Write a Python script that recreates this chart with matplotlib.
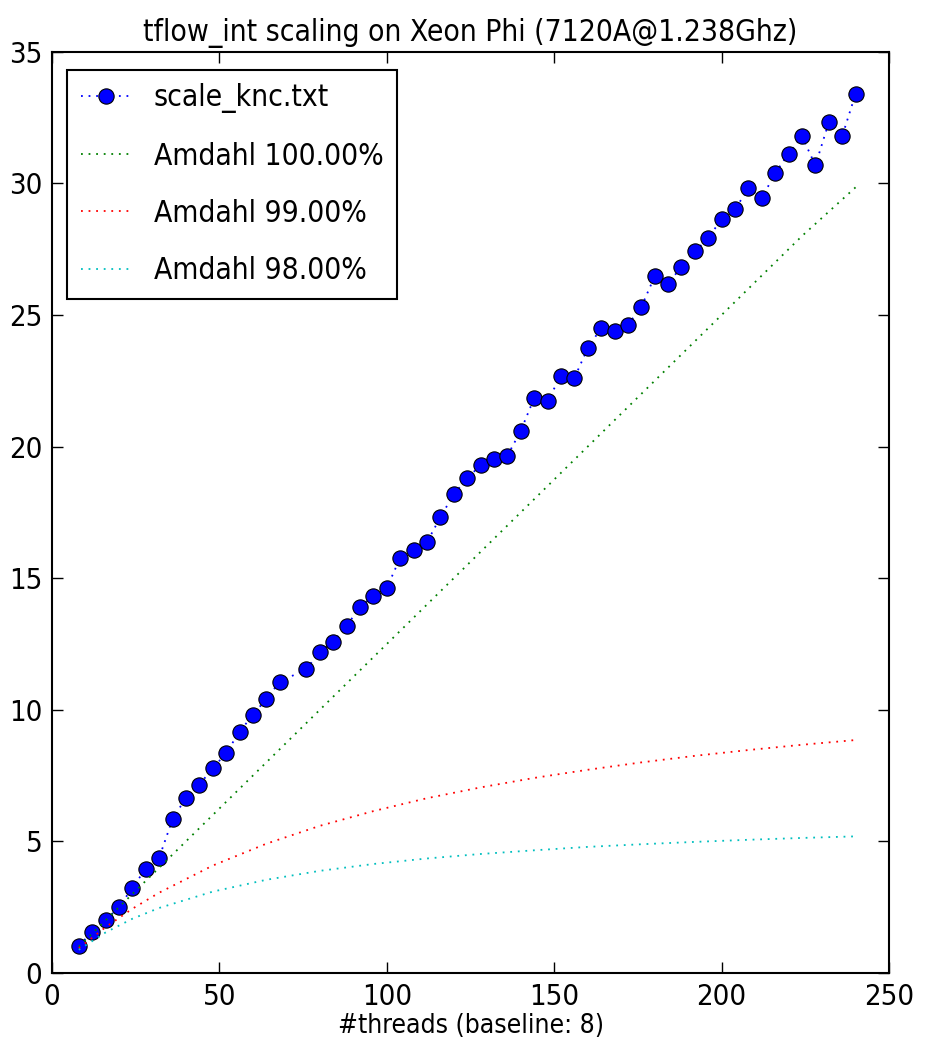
import matplotlib
matplotlib.use("Agg")
import matplotlib.pyplot as plt

# measured speedup (scale_knc.txt), x = #threads
threads = [8, 12, 16, 20, 24, 28, 32, 36, 40, 44, 48, 52, 56, 60, 64, 68,
           76, 80, 84, 88, 92, 96, 100, 104, 108, 112, 116, 120, 124, 128,
           132, 136, 140, 144, 148, 152, 156, 160, 164, 168, 172, 176, 180,
           184, 188, 192, 196, 200, 204, 208, 212, 216, 220, 224, 228, 232,
           236, 240]
speedup = [1.04, 1.55, 2.01, 2.50, 3.24, 3.96, 4.38, 5.84, 6.66, 7.16, 7.77,
           8.36, 9.16, 9.81, 10.41, 11.06, 11.55, 12.21, 12.58, 13.20, 13.89,
           14.34, 14.63, 15.78, 16.08, 16.37, 17.32, 18.19, 18.79, 19.30,
           19.52, 19.65, 20.60, 21.84, 21.72, 22.70, 22.60, 23.74, 24.50,
           24.40, 24.63, 25.30, 26.47, 26.18, 26.84, 27.42, 27.91, 28.66,
           29.01, 29.82, 29.44, 30.39, 31.13, 31.79, 30.68, 32.32, 31.79,
           33.40]

# Amdahl curves
amdahl_x = [8, 16, 24, 32, 48, 64, 80, 96, 112, 128, 144, 160, 176, 192,
            208, 224, 240]
amdahl_100 = [1.0, 2.0, 3.0, 4.0, 6.0, 8.0, 10.0, 12.0, 14.0, 16.0, 18.0,
              20.0, 22.0, 24.0, 26.0, 28.0, 29.85]
amdahl_99 = [0.94, 1.74, 2.44, 3.05, 4.08, 4.91, 5.59, 6.15, 6.64, 7.05,
             7.41, 7.72, 8.00, 8.25, 8.47, 8.67, 8.85]
amdahl_98 = [0.88, 1.54, 2.06, 2.47, 3.09, 3.54, 3.88, 4.14, 4.35, 4.52,
             4.66, 4.79, 4.89, 4.98, 5.06, 5.13, 5.19]

plt.rcParams["font.family"] = ["DejaVu Sans"]
plt.rcParams["font.stretch"] = "condensed"

fig = plt.figure(figsize=(9.29, 10.48), dpi=100)
ax = fig.add_axes([0.056, 0.0716, 0.901, 0.879])

dots = (0, (1, 3.2))
ax.plot(threads, speedup, color="blue", linestyle=dots, linewidth=1.3,
        marker="o", markersize=11, markerfacecolor="blue",
        markeredgecolor="black", markeredgewidth=0.8, label="scale_knc.txt")
ax.plot(amdahl_x, amdahl_100, color="green", linestyle=dots, linewidth=1.3,
        label="Amdahl 100.00%")
ax.plot(amdahl_x, amdahl_99, color="red", linestyle=dots, linewidth=1.3,
        label="Amdahl 99.00%")
ax.plot(amdahl_x, amdahl_98, color="c", linestyle=dots, linewidth=1.3,
        label="Amdahl 98.00%")

ax.set_xlim(0, 250)
ax.set_ylim(0, 35)
ax.set_xticks([0, 50, 100, 150, 200, 250])
ax.set_yticks([0, 5, 10, 15, 20, 25, 30, 35])
ax.tick_params(direction="in", length=8, width=1, labelsize=21,
               top=True, right=True, pad=7)
for s in ax.spines.values():
    s.set_linewidth(1.5)

ax.set_title("tflow_int scaling on Xeon Phi (7120A@1.238Ghz)", fontsize=21.5,
             pad=8)
ax.set_xlabel("#threads (baseline: 8)", fontsize=19, labelpad=2)

leg = ax.legend(loc="upper left", bbox_to_anchor=(0.018, 0.9805),
                borderaxespad=0, numpoints=1, fontsize=21.5, fancybox=False,
                framealpha=1, edgecolor="black",
                handlelength=1.7, handletextpad=0.75, labelspacing=0.95,
                borderpad=0.45)
leg.get_frame().set_linewidth(1.5)

plt.savefig("out.png", dpi=100)
